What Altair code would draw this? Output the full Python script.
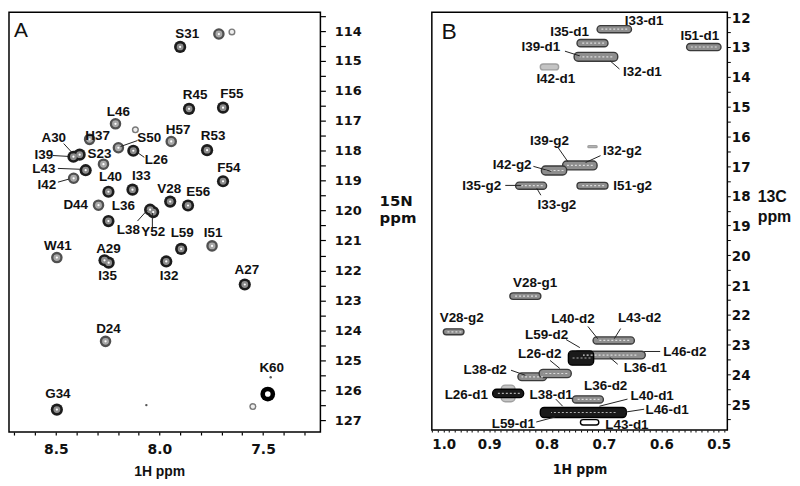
import altair as alt
import pandas as pd

# ---------------- Panel A : 1H-15N spectrum ----------------
a_peak_h = [7.900, 7.713, 7.650, 7.857, 7.693, 8.212, 8.116, 8.337, 7.943, 8.198,
            8.126, 7.770, 8.385, 8.415, 8.270, 8.356, 8.414, 7.693, 8.246, 8.130,
            7.948, 7.862, 8.294, 8.045, 8.030, 8.246, 7.895, 7.746, 8.495, 8.265,
            8.245, 7.967, 7.588, 8.260, 7.477, 7.463, 7.549, 8.063, 8.495]
a_peak_n = [114.53, 114.10, 114.03, 116.60, 116.56, 117.10, 117.30, 117.62, 117.69, 117.90,
            118.00, 117.98, 118.13, 118.20, 118.45, 118.65, 118.92, 119.02, 119.37, 119.30,
            119.70, 119.83, 119.82, 119.97, 120.05, 120.35, 121.28, 121.18, 121.57, 121.66,
            121.74, 121.70, 122.47, 124.37, 126.13, 125.57, 126.55, 126.50, 126.65]
a_peak_int = [3, 2, 1, 3, 3, 2, 1, 2, 2, 2,
              3, 3, 3, 3, 2, 3, 2, 3, 3, 3,
              3, 3, 2, 3, 3, 3, 3, 2, 2, 3,
              3, 3, 3, 2, 4, 0, 1, 0, 3]

a_lab = ["S31", "R45", "F55", "L46", "H37", "A30", "S50", "H57", "R53", "I39",
         "S23", "L26", "L43", "I42", "F54", "L40", "I33", "V28", "E56", "D44",
         "L36", "L38", "Y52", "L59", "I51", "W41", "A29", "I35", "I32", "A27",
         "D24", "K60", "G34"]
a_lab_h = [7.866, 7.828, 7.650, 8.198, 8.298, 8.510, 8.049, 7.910, 7.741, 8.558,
           8.289, 8.015, 8.558, 8.543, 7.665, 8.236, 8.087, 7.953, 7.813, 8.404,
           8.174, 8.150, 8.030, 7.890, 7.741, 8.490, 8.246, 8.250, 7.953, 7.578,
           8.246, 7.458, 8.490]
a_lab_n = [114.10, 116.13, 116.10, 116.70, 117.50, 117.59, 117.59, 117.30, 117.50, 118.13,
           118.10, 118.30, 118.62, 119.15, 118.58, 118.88, 118.85, 119.28, 119.38, 119.82,
           119.86, 120.66, 120.73, 120.75, 120.75, 121.18, 121.30, 122.17, 122.17, 122.00,
           123.97, 125.27, 126.13]

a_ln_h1 = [8.462, 8.514, 8.490, 8.490, 8.106, 8.073, 8.106, 8.034]
a_ln_n1 = [117.76, 118.16, 118.59, 119.05, 117.66, 118.22, 120.35, 120.58]
a_ln_h2 = [8.418, 8.438, 8.380, 8.438, 8.188, 8.106, 8.058, 8.034]
a_ln_n2 = [118.09, 118.19, 118.62, 118.95, 117.86, 118.06, 119.98, 120.08]

a_xticks = [round(7.3 + 0.1 * i, 1) for i in range(15)]
a_yticks = [113.5 + 0.5 * i for i in range(28)]

# ---------------- Panel B : 1H-13C methyl spectrum ----------------
b_pk_h = [0.682, 0.720, 0.714, 0.795, 0.526, 0.742, 0.787, 0.827, 0.720, 0.720,
          0.837, 0.962, 0.683, 0.690, 0.740, 0.825, 0.785, 0.867, 0.867, 0.728,
          0.736, 0.725]
b_pk_hw = [0.030, 0.027, 0.038, 0.016, 0.030, 0.030, 0.022, 0.027, 0.027, 0.008,
           0.027, 0.018, 0.036, 0.062, 0.022, 0.025, 0.028, 0.012, 0.027, 0.027,
           0.075, 0.016]
b_pk_c = [12.40, 12.87, 13.33, 13.67, 13.00, 16.98, 17.15, 17.66, 17.66, 16.35,
          21.37, 22.57, 22.86, 23.35, 23.45, 24.08, 23.97, 24.64, 24.64, 24.84,
          25.28, 25.61]
b_pk_cw = [0.12, 0.12, 0.15, 0.10, 0.12, 0.15, 0.15, 0.12, 0.11, 0.03,
           0.11, 0.10, 0.12, 0.13, 0.24, 0.13, 0.14, 0.28, 0.14, 0.12,
           0.17, 0.09]
b_pk_int = [2, 2, 2, 1, 2, 2, 2, 2, 2, 1,
            2, 2, 2, 2, 3, 2, 2, 1, 3, 2,
            3, 4]

b_lab = ["I33-d1", "I35-d1", "I39-d1", "I32-d1", "I42-d1", "I51-d1", "I39-g2", "I32-g2",
         "I42-g2", "I35-g2", "I51-g2", "I33-g2", "V28-g1", "V28-g2", "L40-d2", "L43-d2",
         "L59-d2", "L46-d2", "L26-d2", "L36-d1", "L38-d2", "L36-d2", "L26-d1", "L38-d1",
         "L40-d1", "L46-d1", "L59-d1", "L43-d1"]
b_lab_h = [0.630, 0.760, 0.810, 0.633, 0.784, 0.533, 0.795, 0.668,
           0.860, 0.913, 0.650, 0.782, 0.820, 0.948, 0.754, 0.638,
           0.800, 0.559, 0.812, 0.628, 0.907, 0.697, 0.940, 0.792,
           0.616, 0.590, 0.858, 0.660]
b_lab_c = [12.13, 12.50, 13.00, 13.84, 14.07, 12.63, 16.15, 16.48,
           16.98, 17.66, 17.66, 18.30, 20.93, 22.10, 22.13, 22.10,
           22.67, 23.24, 23.30, 23.80, 23.84, 24.40, 24.68, 24.68,
           24.72, 25.20, 25.68, 25.71]

b_ln_h1 = [0.768, 0.689, 0.780, 0.706, 0.823, 0.872, 0.810, 0.728, 0.671, 0.766,
           0.602, 0.676, 0.794, 0.862, 0.659, 0.630, 0.818, 0.784]
b_ln_c1 = [13.14, 13.47, 16.38, 16.65, 17.01, 17.65, 17.98, 22.39, 22.46, 22.83,
           23.23, 23.66, 23.53, 23.86, 24.83, 25.17, 25.60, 24.83]
b_ln_h2 = [0.742, 0.673, 0.763, 0.732, 0.792, 0.844, 0.817, 0.711, 0.682, 0.742,
           0.630, 0.690, 0.777, 0.837, 0.708, 0.664, 0.785, 0.772]
b_ln_c2 = [13.30, 13.74, 16.85, 16.88, 17.18, 17.65, 17.75, 22.80, 22.80, 23.10,
           23.23, 23.43, 23.80, 24.03, 25.07, 25.27, 25.43, 25.07]

b_xticks = [round(0.49 + 0.01 * i, 2) for i in range(52)]
b_yticks = [12 + 0.5 * i for i in range(28)]

# ---------------- tables ----------------
pk_a = pd.DataFrame({"h": a_peak_h, "n": a_peak_n, "int": a_peak_int})
lab_a = pd.DataFrame({"h": a_lab_h, "n": a_lab_n, "t": a_lab})
ln_a = pd.DataFrame({"h": a_ln_h1, "n": a_ln_n1, "h2": a_ln_h2, "n2": a_ln_n2})
let_a = pd.DataFrame({"h": [8.702], "n": [114.2], "t": ["A"]})

pk_b = pd.DataFrame({"h": b_pk_h, "hw": b_pk_hw, "c": b_pk_c, "cw": b_pk_cw, "int": b_pk_int})
lab_b = pd.DataFrame({"h": b_lab_h, "c": b_lab_c, "t": b_lab})
ln_b = pd.DataFrame({"h": b_ln_h1, "c": b_ln_c1, "h2": b_ln_h2, "c2": b_ln_c2})
let_b = pd.DataFrame({"h": [0.983], "c": [12.74], "t": ["B"]})

BOLD = "Liberation Sans"
NARROW = "Liberation Sans Narrow, DejaVu Sans Condensed, Liberation Sans"

# ---------------- Panel A scales / axes ----------------
xs_a = alt.Scale(domain=[7.223, 8.726], reverse=True, nice=False, zero=False)
ys_a = alt.Scale(domain=[113.37, 127.4], reverse=True, nice=False, zero=False)
xax_a = alt.Axis(values=a_xticks, labelOverlap=False, labelBound=False,
                 labelExpr="abs(round(datum.value*10) % 5) < 0.5 ? format(datum.value, '.1f') : ''",
                 tickSize=3, tickWidth=1.2, tickColor="black", labelPadding=8,
                 labelFont="DejaVu Sans", labelFontWeight="bold", labelFontSize=14, labelColor="#111",
                 domain=False, grid=False, title="1H ppm", titleFont=BOLD, titleFontWeight="bold",
                 titleFontSize=14, titleColor="#111", titleX=151, titleY=40,
                 titleBaseline="middle", titleAlign="center")
yax_a = alt.Axis(orient="right", values=a_yticks, labelOverlap=False, labelBound=False,
                 labelExpr="abs(datum.value - round(datum.value)) < 0.01 ? format(datum.value, 'd') : ''",
                 tickSize=5, tickWidth=1.2, tickColor="black", labelPadding=9,
                 labelFont="DejaVu Sans", labelFontWeight="bold", labelFontSize=13, labelColor="#111",
                 domain=False, grid=False, title=["15N", "ppm"], titleAngle=0, titleAlign="left",
                 titleBaseline="top", titleX=59, titleY=182, titleLineHeight=17,
                 titleFont="DejaVu Sans", titleFontWeight="bold", titleFontSize=15, titleColor="#111")


def xa(f="h"):
    return alt.X(f"{f}:Q", scale=xs_a, axis=xax_a)


def ya(f="n"):
    return alt.Y(f"{f}:Q", scale=ys_a, axis=yax_a)


def disc(color_expr, size_expr):
    return alt.Chart(pk_a).transform_calculate(
        col=color_expr, sz=size_expr
    ).mark_point(filled=True, shape="circle", opacity=1, strokeWidth=0).encode(
        x=xa(), y=ya(),
        color=alt.Color("col:N", scale=None),
        size=alt.Size("sz:Q", scale=None),
    )


outer = disc("['#555555','#7a7a7a','#505050','#1c1c1c','#000000'][datum.int]",
             "[6, 50, 135, 150, 220][datum.int]")
mid = disc("['#555555','#eeeeee','#a8a8a8','#8c8c8c','#ffffff'][datum.int]",
           "[0, 18, 48, 48, 32][datum.int]")
core = disc("'#ffffff'", "[0, 0, 5, 5, 0][datum.int]")

lines_a = alt.Chart(ln_a).mark_rule(color="#222", strokeWidth=1).encode(
    x=xa(), y=ya(), x2="h2:Q", y2="n2:Q")
text_a = alt.Chart(lab_a).mark_text(font=BOLD, fontWeight="bold", fontSize=13.5, color="#111",
                                    align="center", baseline="middle").encode(x=xa(), y=ya(), text="t:N")
letter_a = alt.Chart(let_a).mark_text(font=BOLD, fontSize=21, color="#111", align="left",
                                      baseline="alphabetic").encode(x=xa(), y=ya(), text="t:N")

panel_a = alt.layer(outer, mid, core, lines_a, text_a, letter_a).properties(width=313, height=422)

# ---------------- Panel B scales / axes ----------------
xs_b = alt.Scale(domain=[0.485, 1.0], reverse=True, nice=False, zero=False)
ys_b = alt.Scale(domain=[11.83, 25.87], reverse=True, nice=False, zero=False)
xax_b = alt.Axis(values=b_xticks, labelOverlap=False,
                 labelExpr="round(datum.value*100) % 10 == 0 ? format(datum.value, '.1f') : ''",
                 tickSize=2, tickWidth=1, tickColor="black", labelPadding=5,
                 labelFont=NARROW, labelFontWeight="bold", labelFontSize=15, labelColor="#111",
                 domain=False, grid=False, title="1H ppm", titleFont=NARROW, titleFontWeight="bold",
                 titleFontSize=14, titleColor="#111", titleY=40, titleBaseline="middle")
yax_b = alt.Axis(orient="right", values=b_yticks, labelOverlap=False, labelBound=False,
                 labelExpr="abs(datum.value - round(datum.value)) < 0.01 ? format(datum.value, 'd') : ''",
                 tickSize=3, tickWidth=1, tickColor="black", labelPadding=1,
                 labelFont=NARROW, labelFontWeight="bold", labelFontSize=15, labelColor="#111",
                 domain=False, grid=False, title=["13C", "ppm"], titleAngle=0, titleAlign="left",
                 titleBaseline="top", titleX=30, titleY=177, titleLineHeight=20,
                 titleFont=BOLD, titleFontWeight="bold", titleFontSize=16, titleColor="#111")


def xb(f="h"):
    return alt.X(f"{f}:Q", scale=xs_b, axis=xax_b)


def yb(f="c"):
    return alt.Y(f"{f}:Q", scale=ys_b, axis=yax_b)


blobs = alt.Chart(pk_b).transform_calculate(
    x1="datum.h - datum.hw", x2="datum.h + datum.hw",
    y1="datum.c - datum.cw", y2="datum.c + datum.cw",
    fc="['#ffffff','#c4c4c4','#8e8e8e','#1a1a1a','#ffffff'][datum.int]",
    sc="['#000000','#a0a0a0','#3a3a3a','#000000','#000000'][datum.int]",
).mark_rect(cornerRadius=4, strokeWidth=1.4).encode(
    x=xb("x1"), x2="x2:Q", y=yb("y1"), y2="y2:Q",
    fill=alt.Fill("fc:N", scale=None),
    stroke=alt.Stroke("sc:N", scale=None),
)
centre = alt.Chart(pk_b).transform_filter("datum.int == 2 || datum.int == 3").transform_calculate(
    x1="datum.h - 0.75*datum.hw", x2="datum.h + 0.75*datum.hw",
    lc="datum.int == 3 ? '#b0b0b0' : '#dcdcdc'",
).mark_rule(strokeDash=[2, 2], strokeWidth=1.2).encode(
    x=xb("x1"), x2="x2:Q", y=yb("c"),
    color=alt.Color("lc:N", scale=None),
)
lines_b = alt.Chart(ln_b).mark_rule(color="#222", strokeWidth=1).encode(
    x=xb(), y=yb(), x2="h2:Q", y2="c2:Q")
text_b = alt.Chart(lab_b).mark_text(font=BOLD, fontWeight="bold", fontSize=13.5, color="#111",
                                    align="center", baseline="middle").encode(x=xb(), y=yb(), text="t:N")
letter_b = alt.Chart(let_b).mark_text(font=BOLD, fontSize=23, color="#111", align="left",
                                      baseline="alphabetic").encode(x=xb(), y=yb(), text="t:N")

panel_b = alt.layer(blobs, centre, lines_b, text_b, letter_b).properties(width=297, height=420)

chart = alt.hconcat(panel_a, panel_b, spacing=112, bounds="flush").properties(
    padding=0, background="white"
).configure_view(stroke="black", strokeWidth=1.5)

chart.save("out.html", embed_options={"renderer": "svg", "actions": False})
